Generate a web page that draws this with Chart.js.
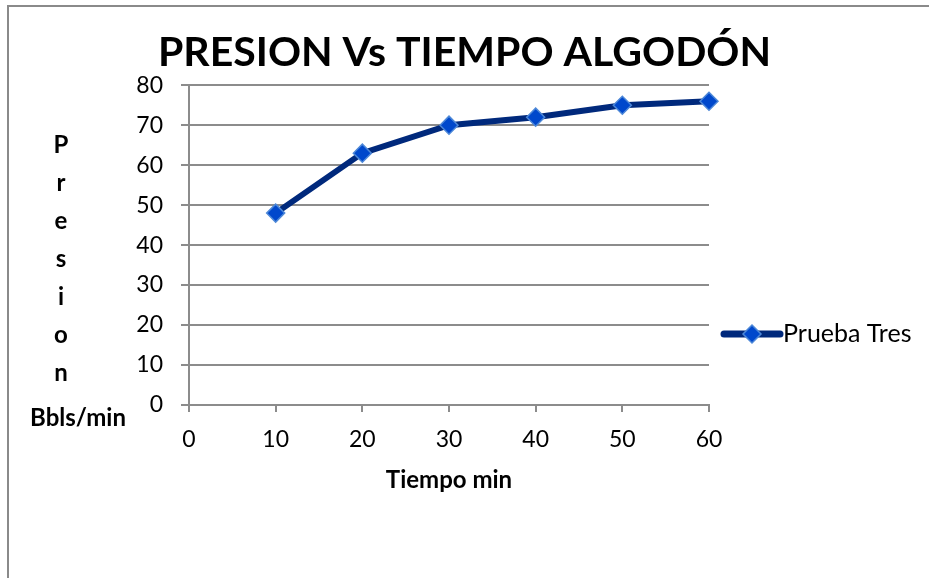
<!DOCTYPE html>
<html>
<head>
<meta charset="utf-8">
<script src="https://cdn.jsdelivr.net/npm/chart.js@4/dist/chart.umd.min.js"></script>
<style>
  html, body { margin: 0; padding: 0; background: #fff; }
  #wrap { position: relative; width: 929px; height: 578px; overflow: hidden; }
  #frame { position: absolute; left: 7px; top: 5px; width: 940px; height: 600px;
           border-left: 2px solid #8a8a8a; border-top: 2px solid #8a8a8a; box-sizing: border-box; }
  canvas { position: absolute; left: 0; top: 0; }
</style>
</head>
<body>
<div id="wrap">
  <div id="frame"></div>
  <canvas id="chart" width="929" height="578"></canvas>
</div>
<script>
// Tiempo (min) vs presión (Bbls/min), prueba tres
const tiempo = [10, 20, 30, 40, 50, 60];
const presion = [48, 63, 70, 72, 75, 76];
const seriesName = 'Prueba Tres';
const chartTitle = 'PRESION Vs TIEMPO ALGODÓN';
const xTitle = 'Tiempo min';
const yTitleLetters = ['P', 'r', 'e', 's', 'i', 'o', 'n'];
const yTitleUnit = 'Bbls/min';

const FONT = 'Lato, "Open Sans", sans-serif';
const GRID = '#8c8c8c';
const LINE = '#00297c';
const MARK = '#0048cc';
const MARK_EDGE = '#4d88d8';

// Stacked vertical axis caption on the left
const yCaption = {
  id: 'yCaption',
  afterDraw(chart) {
    const ctx = chart.ctx;
    ctx.save();
    ctx.fillStyle = '#000';
    ctx.font = 'bold 24px ' + FONT;
    ctx.textAlign = 'center';
    ctx.textBaseline = 'middle';
    yTitleLetters.forEach((ch, i) => ctx.fillText(ch, 61, 145 + 38 * i));
    ctx.fillText(yTitleUnit, 78, 418);
    ctx.restore();
  }
};

// Legend entry: thick line with a diamond marker, then the series name
const lineLegend = {
  id: 'lineLegend',
  afterDraw(chart) {
    const ctx = chart.ctx;
    const x0 = chart.chartArea.right + 15;
    const x1 = x0 + 56;
    const y = 334;
    ctx.save();
    ctx.strokeStyle = LINE;
    ctx.lineWidth = 7;
    ctx.lineCap = 'round';
    ctx.beginPath();
    ctx.moveTo(x0, y);
    ctx.lineTo(x1, y);
    ctx.stroke();
    const cx = (x0 + x1) / 2, r = 9;
    ctx.beginPath();
    ctx.moveTo(cx, y - r);
    ctx.lineTo(cx + r, y);
    ctx.lineTo(cx, y + r);
    ctx.lineTo(cx - r, y);
    ctx.closePath();
    ctx.fillStyle = MARK;
    ctx.fill();
    ctx.lineWidth = 1.5;
    ctx.strokeStyle = MARK_EDGE;
    ctx.stroke();
    ctx.fillStyle = '#000';
    ctx.font = '25px ' + FONT;
    ctx.textAlign = 'left';
    ctx.textBaseline = 'middle';
    ctx.fillText(seriesName, x1 + 3, y);
    ctx.restore();
  }
};

new Chart(document.getElementById('chart'), {
  type: 'line',
  data: {
    datasets: [{
      label: seriesName,
      data: tiempo.map((t, i) => ({ x: t, y: presion[i] })),
      borderColor: LINE,
      borderWidth: 6,
      tension: 0,
      clip: false,
      pointStyle: 'rectRot',
      pointRadius: 9,
      pointHoverRadius: 9,
      pointBackgroundColor: MARK,
      pointBorderColor: MARK_EDGE,
      pointBorderWidth: 1.5
    }]
  },
  options: {
    responsive: false,
    animation: false,
    events: [],
    layout: { padding: 0 },
    plugins: {
      legend: { display: false },
      tooltip: { enabled: false },
      title: {
        display: true,
        text: chartTitle,
        color: '#000',
        font: { family: FONT, size: 41, weight: 'bold' },
        padding: { top: 28, bottom: 8 }
      }
    },
    scales: {
      x: {
        type: 'linear',
        min: 0,
        max: 60,
        afterFit(scale) { scale.height = 173; },
        ticks: { stepSize: 10, color: '#000', font: { family: FONT, size: 23 }, padding: 14 },
        grid: { drawOnChartArea: false, drawTicks: true, tickLength: 7, color: GRID, lineWidth: 2 },
        border: { display: true, color: GRID, width: 2 },
        title: {
          display: true,
          text: xTitle,
          color: '#000',
          font: { family: FONT, size: 24, weight: 'bold' },
          padding: { top: 4, bottom: 83 }
        }
      },
      y: {
        min: 0,
        max: 80,
        afterFit(scale) { scale.width = 189; },
        ticks: { stepSize: 10, color: '#000', font: { family: FONT, size: 23 }, padding: 18 },
        grid: { color: GRID, lineWidth: 2, tickLength: 8 },
        border: { display: true, color: GRID, width: 2 }
      },
      // empty band on the right that holds the legend
      legendBand: {
        type: 'linear',
        position: 'right',
        display: true,
        afterFit(scale) { scale.width = 220; },
        ticks: { display: false },
        grid: { display: false },
        border: { display: false }
      }
    }
  },
  plugins: [yCaption, lineLegend]
});
</script>
</body>
</html>
